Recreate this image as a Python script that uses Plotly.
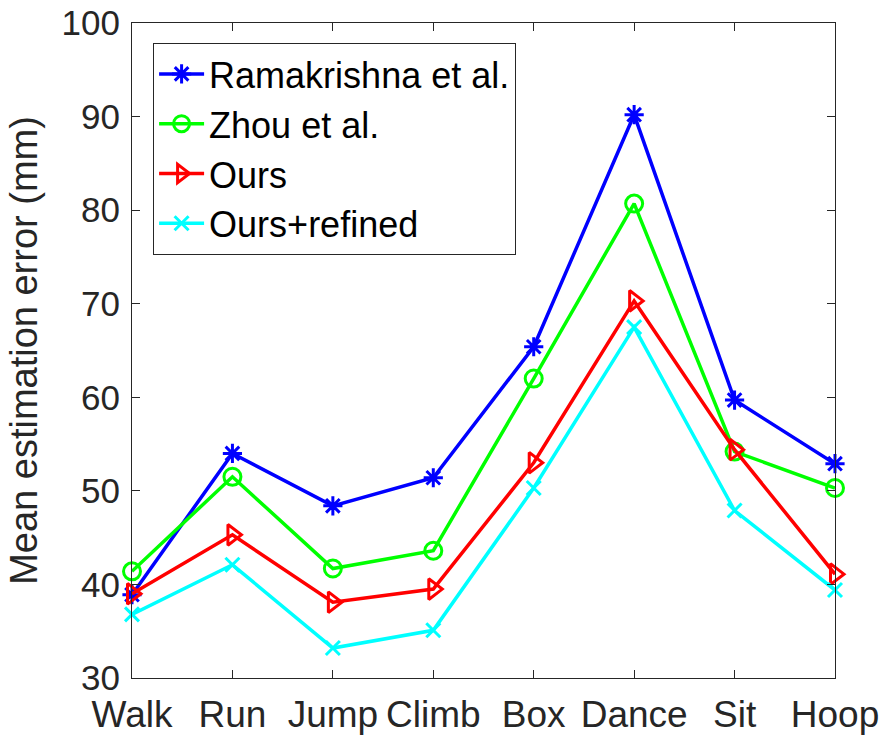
import plotly.graph_objects as go

categories = ["Walk", "Run", "Jump", "Climb", "Box", "Dance", "Sit", "Hoop"]
ramakrishna = [38.9, 54.0, 48.4, 51.4, 65.4, 90.2, 59.7, 52.9]
zhou = [41.4, 51.5, 41.7, 43.6, 62.0, 80.7, 54.2, 50.3]
ours = [39.0, 45.3, 38.1, 39.5, 53.0, 70.3, 54.4, 41.1]
ours_refined = [36.8, 42.1, 33.2, 35.1, 50.3, 67.5, 47.9, 39.4]
y_ticks = [30, 40, 50, 60, 70, 80, 90, 100]

series = [
    ("Ramakrishna et al.", ramakrishna, "#0000ff", "asterisk-open", 16),
    ("Zhou et al.", zhou, "#00ff00", "circle-open", 17),
    ("Ours", ours, "#ff0000", "triangle-right-open", 18),
    ("Ours+refined", ours_refined, "#00ffff", "x-thin-open", 14),
]

fig = go.Figure()
for name, vals, color, sym, size in series:
    fig.add_trace(go.Scatter(
        x=categories, y=vals, name=name, mode="lines+markers",
        line=dict(color=color, width=3.5),
        marker=dict(symbol=sym, size=size, color=color,
                    line=dict(color=color, width=3)),
        cliponaxis=False,
    ))

axis_col = "#262626"
fig.update_layout(
    width=880, height=738,
    margin=dict(l=132, r=45, t=23, b=60),
    paper_bgcolor="white", plot_bgcolor="white",
    font=dict(family="Liberation Sans, Arial, sans-serif", size=35, color=axis_col),
    showlegend=True,
    legend=dict(
        x=0.03, y=0.9695, xanchor="left", yanchor="top",
        bgcolor="white", bordercolor=axis_col, borderwidth=1,
        font=dict(size=36, color="black"), itemwidth=45,
    ),
)
fig.update_xaxes(
    type="category", categoryorder="array", categoryarray=categories,
    range=[0, 7], showgrid=False, zeroline=False, automargin=False,
    showline=True, linecolor=axis_col, linewidth=1, mirror="ticks",
    ticks="inside", ticklen=8, tickcolor=axis_col, ticklabelstandoff=4,
    tickfont=dict(size=37, color=axis_col),
)
fig.update_yaxes(
    range=[30, 100], tickvals=y_ticks, showgrid=False, zeroline=False, automargin=False,
    showline=True, linecolor=axis_col, linewidth=1, mirror="ticks",
    ticks="inside", ticklen=8, tickcolor=axis_col, ticklabelstandoff=4,
    tickfont=dict(size=35, color=axis_col),
    title=dict(text="Mean estimation error (mm)", font=dict(size=38, color=axis_col), standoff=12),
)

fig.write_html("out.html")
